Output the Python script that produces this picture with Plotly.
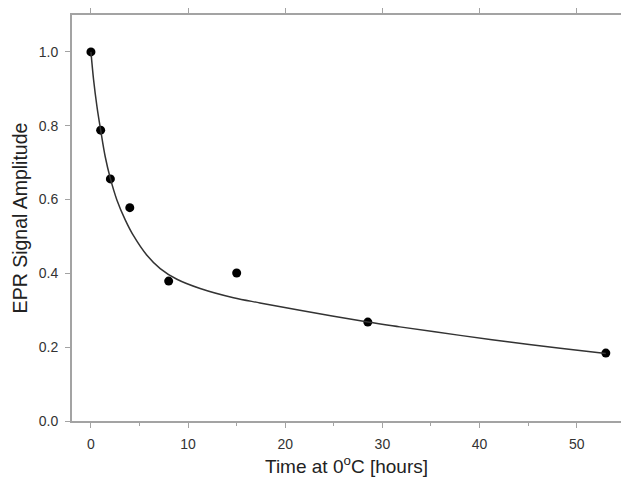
import plotly.graph_objects as go

# Measured data points
time_h = [0, 1, 2, 4, 8, 15, 28.5, 53]
amplitude = [1.0, 0.788, 0.656, 0.578, 0.379, 0.401, 0.268, 0.184]

# Fitted curve
fit_t = [0, 0.27, 0.62, 0.99, 1.47, 1.99, 2.67, 3.53, 4.38, 5.76, 7.13, 8.85,
         11.24, 14.67, 17.4, 21.5, 28.5, 31.8, 38.0, 43.1, 48.3, 53]
fit_y = [1.0, 0.925, 0.852, 0.790, 0.716, 0.658, 0.599, 0.545, 0.502, 0.449,
         0.413, 0.384, 0.359, 0.334, 0.320, 0.300, 0.268, 0.255, 0.232, 0.214,
         0.197, 0.183]

x_ticks = [0, 10, 20, 30, 40, 50]
y_ticks = [0.0, 0.2, 0.4, 0.6, 0.8, 1.0]
y_tick_text = ["0.0", "0.2", "0.4", "0.6", "0.8", "1.0"]

FONT = "Liberation Sans, Arial, sans-serif"
AXIS_COLOR = "#a3a3a3"
TEXT_COLOR = "#333333"
XRANGE = [-1.95, 54.56]

fig = go.Figure()
# fitted curve drawn against the top (mirrored) x axis, which shares the range
fig.add_trace(go.Scatter(x=fit_t, y=fit_y, mode="lines", line_shape="spline",
                         line=dict(color="#333333", width=1.5),
                         xaxis="x2", yaxis="y",
                         hoverinfo="skip", showlegend=False))
fig.add_trace(go.Scatter(x=time_h, y=amplitude, mode="markers",
                         marker=dict(color="black", size=9),
                         showlegend=False))

fig.update_layout(
    width=621, height=489,
    margin=dict(l=72, r=0, t=15, b=68),
    paper_bgcolor="white", plot_bgcolor="white",
    font=dict(family=FONT, color=TEXT_COLOR, size=12),
    xaxis=dict(range=XRANGE, tickvals=x_ticks, ticks="outside", ticklen=5,
               tickwidth=1, tickcolor=AXIS_COLOR, ticklabelstandoff=4,
               showline=True, linecolor=AXIS_COLOR, linewidth=2,
               showgrid=False, zeroline=False,
               tickfont=dict(size=14, color=TEXT_COLOR),
               minor=dict(dtick=5, tick0=5, ticks="outside", ticklen=3,
                          tickcolor=AXIS_COLOR, showgrid=False),
               title=dict(text="Time at 0<sup>o</sup>C [hours]",
                          font=dict(size=19, color="#222222"), standoff=9)),
    xaxis2=dict(range=XRANGE, matches="x", overlaying="x", side="top", anchor="y",
                tickvals=x_ticks, ticks="outside", ticklen=5, tickwidth=1,
                tickcolor=AXIS_COLOR, showticklabels=False,
                showline=True, linecolor=AXIS_COLOR, linewidth=2,
                showgrid=False, zeroline=False),
    yaxis=dict(range=[0, 1.1], tickvals=y_ticks, ticktext=y_tick_text,
               ticks="outside", ticklen=5, tickwidth=1, tickcolor=AXIS_COLOR,
               ticklabelstandoff=4,
               showline=True, linecolor=AXIS_COLOR, linewidth=2,
               showgrid=False, zeroline=False,
               tickfont=dict(size=14, color=TEXT_COLOR),
               title=dict(text="EPR Signal Amplitude",
                          font=dict(size=19.5, color="#222222"), standoff=6)),
)

fig.write_html("out.html")
